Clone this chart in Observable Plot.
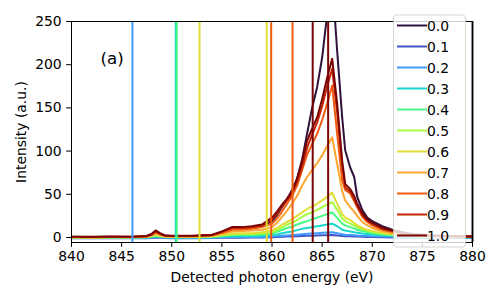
<!DOCTYPE html>
<html><head><meta charset="utf-8">
<script src="https://cdn.jsdelivr.net/npm/d3@7"></script>
<script src="https://cdn.jsdelivr.net/npm/@observablehq/plot@0.6"></script>
<style>body{margin:0;background:#fff} svg{font-family:"DejaVu Sans",sans-serif}</style>
</head><body><div id="chart"></div>
<script>
const energy = [840,842,844,846,847.5,848,848.4,848.8,849.3,850,852,854,855,856,857,858,859,860,860.5,861,861.5,862,862.5,863,863.5,864,864.5,865,865.5,866,866.5,867,867.3,867.8,868.2,868.5,869,869.5,870,871,872,873,874,876,878,880];
const keys = ["0.0","0.1","0.2","0.3","0.4","0.5","0.6","0.7","0.8","0.9","1.0"];
const colors = ["#30123b","#4454c4","#3e9bfe","#18d6cb","#46f884","#a4fc3c","#e1dd37","#fea632","#f05b12","#c42503","#7a0403"];
const i00 = [0.5,0.3,0.6,0.5,1.5,4,8,5,2,1.5,1.5,2.5,6,10,10.5,11,13,19,26,35,44,55,68,90,120,150,174,208,258,300,216,139,101,81,70,47,32,23,19,13,9,6,4,2.5,1.5,1];
const i01 = [-0.9,-1,-0.9,-0.9,-0.8,-0.5,-0.2,-0.4,-0.7,-0.8,-0.8,-0.6,-0.4,-0.2,-0.2,-0.1,0,0.2,0.5,0.8,1,1.2,1.5,1.7,1.9,2.1,2.3,2.5,2.7,2.9,2.4,1.7,1.5,1.3,1.1,1,0.8,0.6,0.5,0.2,0,-0.2,-0.3,-0.5,-0.6,-0.7];
const i02 = [-0.6,-0.7,-0.6,-0.6,-0.4,0,0.5,0.2,-0.3,-0.4,-0.4,-0.2,0.2,0.5,0.5,0.6,0.7,1,1.4,2,2.4,2.8,3.3,3.8,4.2,4.6,5,5.4,5.7,6,5,3.8,3.3,3,2.6,2.3,2,1.7,1.5,1.1,0.8,0.5,0.3,0,-0.2,-0.3];
const i03 = [-0.3,-0.4,-0.3,-0.3,0,0.6,1.2,0.8,0.2,0,0,0.3,1,1.5,1.5,1.8,2,2.5,3.5,5,6,7,8.5,10,11,12,13,14,15,16,13,9,8,7,6,5.5,4.5,4,3.5,2.5,2,1.5,1,0.6,0.4,0.3];
const i04 = [0,-0.2,0,0,0.3,1,2,1.2,0.5,0.3,0.3,0.7,1.5,2.5,2.8,3,3.5,4.5,6.5,9,11,12.5,15,17,19,21,23,25,27,29,23,16,14,12,10.5,9,7.5,6,5,3.5,2.5,2,1.5,0.8,0.5,0.3];
const i05 = [0.2,0,0.2,0.2,0.5,1.3,2.5,1.6,0.7,0.5,0.5,1,2.5,3.5,4,4,4.5,6,8.5,12,15,17,20,24,27,29,32,35,38,41,32,22,19,16,14,12,9.5,8,6.5,4.5,3.5,2.5,1.8,1,0.7,0.5];
const i06 = [0.3,0.1,0.3,0.3,0.7,1.8,3.5,2.3,1,0.8,0.8,1.3,3,4.5,5,5,6,8,11,15,18,21,25,29,33,36,39,43,47,52,39,27,23,20,17,14,11,9,7.5,5.5,4,3,2,1.2,0.8,0.5];
const i07 = [0.4,0.2,0.5,0.4,1,2.5,5,3.2,1.5,1.2,1.2,2,4.5,7,7.5,8,9,12,17,24,31,39,48,60,70,78,86,95,106,116,85,54,43,35,30,25,18,14,11,7.5,5,3.5,2.5,1.5,1,0.6];
const i08 = [0.6,0.4,0.7,0.6,1.2,3,6,4,1.8,1.5,1.5,2.4,5.5,9,9.5,10,12,16,22,30,39,48,60,78,96,108,120,136,155,176,120,66,55,51,42,35,24,18,14,9,6.5,4.5,3,1.8,1.2,0.8];
const i09 = [0.8,0.6,0.9,0.8,1.5,3.5,7,4.5,2,1.8,1.8,2.8,6.5,11,11,12,14,21,28,36,43,51,64,82,104,119,133,152,175,195,145,82,58,53,45,37,26,20,16,10.5,7.5,5,3.2,2,1.3,1];
const i10 = [1,0.8,1.1,1,1.8,4,8,5,2.5,2,2,3,7,12,12,13,15,23,30,38,45,53,68,88,112,126,139,160,185,207,155,89,62,56,48,39,28,21,17,11,8,5,3.5,2,1.5,1];
const vlineX = [846.08,850.4,850.5,852.77,859.47,859.92,862.05,864.06,865.6,880];
const vlineKey = ["0.2","0.3","0.4","0.6","0.6","0.8","0.8","1.0","1.0","0.0"];
const xTicks = [840,845,850,855,860,865,870,875,880];
const yTicks = [0,50,100,150,200,250];

const series = [i00,i01,i02,i03,i04,i05,i06,i07,i08,i09,i10];
const rows = series.flatMap((vals,s)=>vals.map((v,i)=>({x:energy[i], y:v, k:keys[s]})));
const vlines = vlineX.map((x,i)=>({x, k:vlineKey[i]}));
const FS = 13.9;

const chart = Plot.plot({
  width:500, height:300, marginLeft:71, marginRight:28, marginTop:21, marginBottom:58,
  style:{fontFamily:"DejaVu Sans", fontSize:FS+"px", color:"#000", background:"#fff"},
  x:{domain:[840,880]},
  y:{domain:[-5.8,250]},
  color:{domain:keys, range:colors},
  marks:[
    Plot.line(rows,{x:"x", y:"y", z:"k", stroke:"k", strokeWidth:2, strokeLinejoin:"round", clip:true}),
    Plot.ruleX(vlines,{x:"x", stroke:"k", strokeWidth:2}),
    Plot.frame({stroke:"#000", strokeWidth:1}),
    Plot.axisX({ticks:xTicks, tickSize:4.9, tickPadding:4, label:null, fontSize:FS}),
    Plot.axisY({ticks:yTicks, tickSize:4.9, tickPadding:4.9, label:null, fontSize:FS}),
    Plot.text(["Detected photon energy (eV)"],{text:d=>d, frameAnchor:"bottom", dy:35, fontSize:FS, lineAnchor:"middle"}),
    Plot.text(["Intensity (a.u.)"],{text:d=>d, frameAnchor:"left", dx:-49.5, rotate:-90, fontSize:FS, lineAnchor:"middle", textAnchor:"middle"}),
    Plot.text(["(a)"],{text:d=>d, frameAnchor:"top-left", dx:29, dy:37.5, fontSize:16.7, lineAnchor:"middle", textAnchor:"start"})
  ]
});
document.getElementById("chart").appendChild(chart);

const svg = d3.select(chart);
const lg = svg.append("g");
lg.append("rect").attr("x",393.5).attr("y",15).attr("width",72).attr("height",232).attr("rx",3)
  .attr("fill","#fff").attr("fill-opacity",0.8).attr("stroke","#cccccc").attr("stroke-opacity",0.8);
keys.forEach((k,i)=>{
  const y = 25.5 + 21*i;
  lg.append("line").attr("x1",397).attr("x2",427).attr("y1",y).attr("y2",y)
    .attr("stroke",colors[i]).attr("stroke-width",2);
  lg.append("text").attr("x",438).attr("y",y).attr("dy","0.36em")
    .attr("font-size",FS).attr("fill","#000").text(k);
});
</script>
</body></html>
